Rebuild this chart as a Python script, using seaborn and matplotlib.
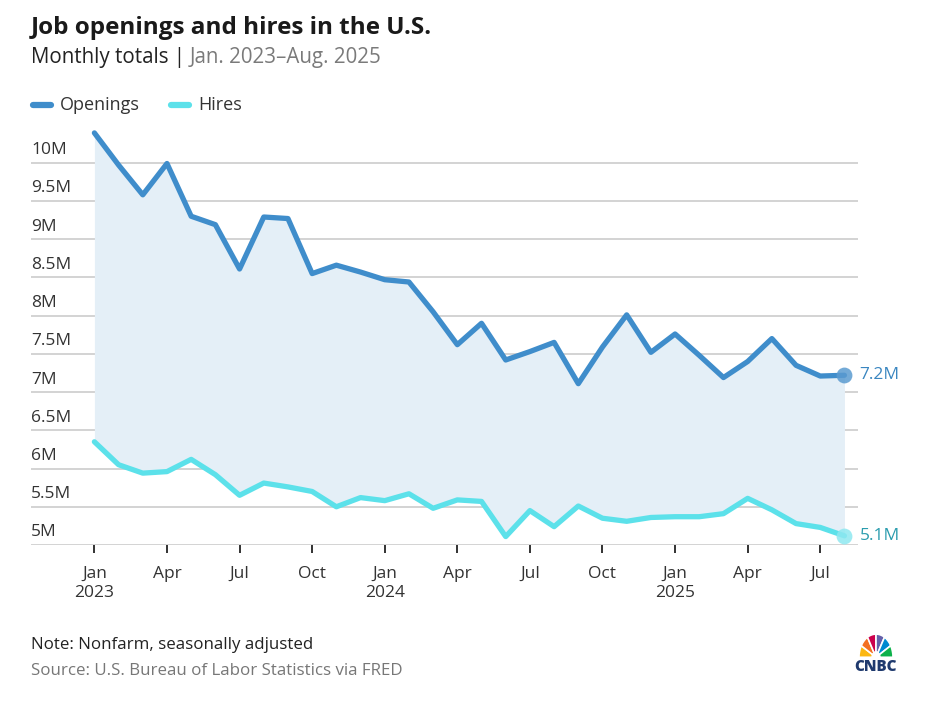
import numpy as np
import pandas as pd
import seaborn as sns
import matplotlib.pyplot as plt
from matplotlib.lines import Line2D
from matplotlib.patches import Wedge

# monthly values, Jan 2023 - Aug 2025, millions
months = pd.period_range("2023-01", "2025-08", freq="M")
openings = [10.39, 9.97, 9.58, 9.99, 9.30, 9.19, 8.61, 9.29, 9.27, 8.55, 8.66, 8.57,
            8.47, 8.44, 8.05, 7.62, 7.90, 7.42, 7.53, 7.65, 7.11, 7.59, 8.01, 7.52,
            7.76, 7.48, 7.19, 7.40, 7.70, 7.35, 7.21, 7.22]
hires = [6.35, 6.05, 5.94, 5.96, 6.12, 5.92, 5.65, 5.81, 5.76, 5.70, 5.50, 5.62,
         5.58, 5.67, 5.48, 5.59, 5.57, 5.11, 5.45, 5.24, 5.51, 5.35, 5.31, 5.36,
         5.37, 5.37, 5.41, 5.61, 5.46, 5.28, 5.23, 5.12]
tick_pos = list(range(0, 32, 3))
tick_labels = ["Jan\n2023", "Apr", "Jul", "Oct", "Jan\n2024", "Apr", "Jul", "Oct",
               "Jan\n2025", "Apr", "Jul"]
y_ticks = [5, 5.5, 6, 6.5, 7, 7.5, 8, 8.5, 9, 9.5, 10]
y_labels = ["5M", "5.5M", "6M", "6.5M", "7M", "7.5M", "8M", "8.5M", "9M", "9.5M", "10M"]

df = pd.DataFrame({"m": np.arange(len(months)), "Openings": openings, "Hires": hires})
long = df.melt(id_vars="m", var_name="series", value_name="value")

sns.set_theme(style="white")
plt.rcParams["font.family"] = ["Open Sans", "DejaVu Sans"]

blue = "#3f8dcb"
cyan = "#5ce1ea"
dark = "#222222"

fig = plt.figure(figsize=(9.29, 7.01), dpi=100)
ax = fig.add_axes([31 / 929, 1 - 545 / 701, (858 - 31) / 929, (545 - 124.5) / 701])

ax.fill_between(df["m"], df["Openings"], df["Hires"], color="#e4eff7", lw=0, zorder=1)
for v in y_ticks:
    ax.axhline(v, color="#cccccc", lw=1.2, zorder=0.5)

sns.lineplot(data=long, x="m", y="value", hue="series", palette={"Openings": blue, "Hires": cyan},
             lw=3.8, legend=False, ax=ax, zorder=3, solid_capstyle="round", solid_joinstyle="round")

# end markers and labels
last = df.iloc[-1]
ax.scatter([last["m"]], [last["Openings"]], s=130, color="#5b9bd0", alpha=0.85, zorder=4, lw=0)
ax.scatter([last["m"]], [last["Hires"]], s=130, color="#8ee8f0", alpha=0.85, zorder=4, lw=0)
ax.annotate(f"{last['Openings']:.1f}M", (last["m"], last["Openings"]), xytext=(11, 0),
            textcoords="offset points", va="center", fontsize=12.5, color="#3a86c0")
ax.annotate(f"{last['Hires']:.1f}M", (last["m"], last["Hires"]), xytext=(11, 0),
            textcoords="offset points", va="center", fontsize=12.5, color="#2a9cae")

ax.set_xlim(-2.62, 31.56)
ax.set_ylim(5, 10.5)
ax.set_xticks(tick_pos)
ax.set_xticklabels(tick_labels, fontsize=12.5, color="#333333", linespacing=1.25)
ax.tick_params(axis="x", length=6, width=1.3, color=dark, pad=9, bottom=True)
ax.set_yticks([])
for v, lab in zip(y_ticks, y_labels):
    ax.text(0, v + 0.06, lab, transform=ax.get_yaxis_transform(), ha="left", va="bottom",
            fontsize=12.5, color="#333333")
ax.set_xlabel("")
ax.set_ylabel("")
for s in ax.spines.values():
    s.set_visible(False)

# title, subtitle
fig.text(31 / 929, 1 - 34 / 701, "Job openings and hires in the U.S.", fontsize=17.5,
         fontweight="bold", color="#1a1a1a", va="baseline")
t = fig.text(31 / 929, 1 - 63 / 701, "Monthly totals |", fontsize=14.8, color="#222222", va="baseline")
fig.canvas.draw()
bb = t.get_window_extent()
fig.text((bb.x1 + 5) / 929, 1 - 63 / 701, "Jan. 2023\u2013Aug. 2025", fontsize=14.8,
         color="#7a7a7a", va="baseline")

# legend
for x0, col, name in [(31, blue, "Openings"), (169, cyan, "Hires")]:
    fig.add_artist(Line2D([(x0 + 2) / 929, (x0 + 20) / 929], [1 - 105 / 701] * 2,
                          color=col, lw=4.5, solid_capstyle="round"))
    fig.text((x0 + 29) / 929, 1 - 105 / 701, name, fontsize=13, color="#333333", va="center")

# footnotes
fig.text(31 / 929, 1 - 645 / 701, "Note: Nonfarm, seasonally adjusted", fontsize=12.2,
         color="#222222", va="center")
fig.text(31 / 929, 1 - 671 / 701, "Source: U.S. Bureau of Labor Statistics via FRED", fontsize=12.2,
         color="#777777", va="center")

# CNBC logo
logo = fig.add_axes([858 / 929, 1 - 660 / 701, 36 / 929, 30 / 701])
logo.set_xlim(-18, 18)
logo.set_ylim(-2, 20)
logo.axis("off")
feathers = ["#fcb711", "#f37021", "#cc004c", "#6460aa", "#0089d0", "#0db14b"]
for i, c in enumerate(feathers):
    a0 = 180 - i * 30
    logo.add_patch(Wedge((0, 0), 17, a0 - 30, a0, color=c, ec="white", lw=1.2))
logo.add_patch(Wedge((0, 0), 4, 0, 180, color="white"))
fig.text(876 / 929, 1 - 667 / 701, "CNBC", fontsize=11, fontweight="heavy", color="#1f3a6e",
         ha="center", va="center")

fig.savefig("out.png", dpi=100)
